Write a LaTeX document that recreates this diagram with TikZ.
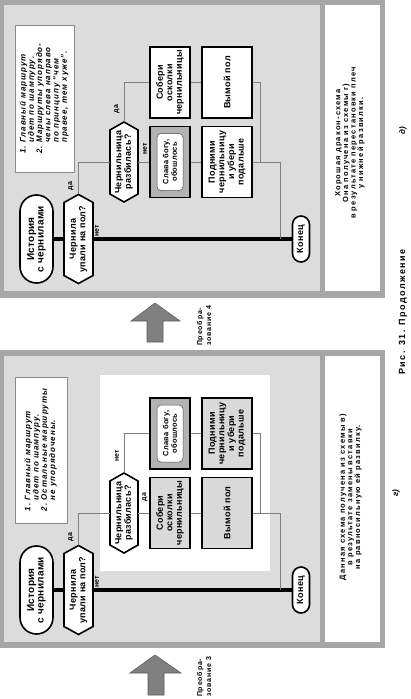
\documentclass[tikz,border=0pt]{standalone}
\usepackage{fontspec}
\setmainfont{Liberation Sans}
\newfontfamily\fN{Liberation Sans}[LetterSpace=3]
\newfontfamily\fT{Liberation Sans}[LetterSpace=12]
\newfontfamily\fC{Liberation Sans}[LetterSpace=16]
\usetikzlibrary{shapes.misc}
\definecolor{framegray}{HTML}{A6A6A6}
\definecolor{panelgray}{HTML}{DCDCDC}
\definecolor{darkbox}{HTML}{B3B3B3}
\definecolor{boxgray}{HTML}{D9D9D9}
\definecolor{linegray}{HTML}{7F7F7F}
\definecolor{notegray}{HTML}{8C8C8C}
\definecolor{arrowgray}{HTML}{808080}
\definecolor{arrowdark}{HTML}{5A5A5A}
\newcommand\hexq[4]{\draw[qshape] (#1,{#2-#4}) -- ({#1+#3},{#2-#4+8}) -- ({#1+#3},{#2+#4-8}) -- (#1,{#2+#4}) -- ({#1-#3},{#2+#4-8}) -- ({#1-#3},{#2-#4+8}) -- cycle;}
\begin{document}
\begin{tikzpicture}[x=1pt,y=-1pt,
 term/.style={rounded rectangle, draw=black, line width=1.6pt, fill=white, rotate=90, inner sep=0pt, align=center, font=\fN\bfseries\fontsize{9}{9.5}\selectfont},
 qtxt/.style={rectangle, inner sep=0pt, rotate=90, align=center, font=\fN\bfseries\fontsize{9}{9.5}\selectfont},
 qshape/.style={draw=black, line width=1.6pt, fill=white, line join=miter},
 act/.style={rectangle, draw=black, line width=1.6pt, fill=white, rotate=90, inner sep=0pt, align=center, minimum width=71pt, font=\fN\bfseries\fontsize{9}{9.6}\selectfont},
 inbox/.style={rectangle, rounded corners=4pt, draw=black!70, line width=0.5pt, fill=white, rotate=90, inner sep=0pt, minimum width=57pt, minimum height=26pt, align=center, font=\fN\bfseries\fontsize{7.5}{8.5}\selectfont},
 lbl/.style={rotate=90, inner sep=0pt, font=\fN\bfseries\fontsize{7}{7}\selectfont},
 lblit/.style={rotate=90, inner sep=0pt, font=\fN\bfseries\itshape\fontsize{8}{8}\selectfont},
 skew/.style={line width=4pt},
 br/.style={draw=linegray, line width=0.7pt},
 note/.style={rotate=90, inner sep=0pt, align=left, draw=notegray, line width=0.8pt, fill=white, font=\fT\bfseries\itshape\fontsize{8}{8.2}\selectfont},
 capt/.style={rotate=90, inner sep=0pt, align=center, font=\fC\bfseries\fontsize{7.5}{7.6}\selectfont},
 trl/.style={rotate=90, inner sep=0pt, align=left, font=\fT\bfseries\fontsize{7}{9}\selectfont},
 figc/.style={rotate=90, inner sep=0pt, font=\fC\bfseries\fontsize{9}{9}\selectfont},
 barrow/.style={fill=arrowgray, draw=arrowdark, line width=0.6pt},
]
\useasboundingbox (0,0) rectangle (411,699);
\fill[white] (0,0) rectangle (411,699);
% ---------- panel d (top)
\fill[framegray] (0,0) rectangle (385,298);
\fill[panelgray] (4,5) rectangle (320,291);
\fill[white] (325,5) rectangle (380,291);
% ---------- panel g (bottom)
\fill[framegray] (0,350) rectangle (385,648);
\fill[panelgray] (4,356) rectangle (320,642);
\fill[white] (325,356) rectangle (380,642);
\fill[white] (100,375) rectangle (270,571);

% ================= TOP PANEL =================
\node[note, minimum width=147pt, minimum height=59pt] (n1) at (44.5,98.5) {\begin{tabular}{@{}l@{\ }l@{}}1.&Главный маршрут\\&идет по шампуру.\\2.&Маршруты упорядо-\\&чены слева направо\\&по принципу “чем\\&правее, тем хуже”.\end{tabular}};
\node[term, minimum width=88pt, minimum height=33pt, font=\fN\bfseries\fontsize{10}{9.5}\selectfont] (ist1) at (36.5,239) {История\\с чернилами};
\hexq{78.5}{239}{14.5}{44.5}
\node[qtxt, minimum width=89pt, minimum height=29pt] (qa1) at (78.5,239) {Чернила\\упали на пол?};
\hexq{124}{162}{14}{40}
\node[qtxt, minimum width=80pt, minimum height=28pt] (qb1) at (124,162) {Чернильница\\разбилась?};
\node[act, minimum height=40pt] (sob1) at (170,82.5) {Собери\\осколки\\чернильницы};
\node[act, minimum height=50pt] (vym1) at (227,82.5) {Вымой пол};
\node[act, fill=darkbox, minimum height=40pt] (sl1) at (170,162) {};
\node[inbox] (sli1) at (sl1) {Слава богу,\\обошлось};
\node[act, minimum height=50pt] (pod1) at (227,162) {Подними\\чернильницу\\и убери\\подальше};
\node[term, minimum width=46pt, minimum height=17pt] (end1) at (301,239) {Конец};
\coordinate (ja1) at (280,239);
\coordinate (jb1) at (260,162);
\draw[skew] (ist1.south) -- (qa1.north);
\draw[skew] (qa1.south) -- (end1.north);
\draw[br] (qa1.east) |- (qb1.north);
\draw[br] (qb1.south) -- (sl1.north);
\draw[br] (sl1.south) -- (pod1.north);
\draw[br] (pod1.south) -| (ja1);
\draw[br] (qb1.east) |- (sob1.north);
\draw[br] (sob1.south) -- (vym1.north);
\draw[br] (vym1.south) -| (jb1);
\node[lbl] (la1) at (71,186) {да};
\node[lbl] (lb1) at (97,231) {нет};
\node[lbl] (lc1) at (117,109) {да};
\node[lbl] (ld1) at (145,149) {нет};
\node[capt] (c1) at (350,143) {Хорошая дракон-схема\\Она получена из схемы г)\\в результате перестановки плеч\\у нижней развилки.};
\node[lblit] (t1) at (403,131) {д)};

% ================= BOTTOM PANEL =================
\node[note, minimum width=146pt, minimum height=52pt] (n2) at (41,450) {\begin{tabular}{@{}l@{\ }l@{}}1.&Главный маршрут\\&идет по шампуру.\\2.&Остальные маршруты\\&не упорядочены.\end{tabular}};
\node[term, minimum width=88pt, minimum height=33pt, font=\fN\bfseries\fontsize{10}{9.5}\selectfont] (ist2) at (36.5,590) {История\\с чернилами};
\hexq{78.5}{590}{14.5}{44.5}
\node[qtxt, minimum width=89pt, minimum height=29pt] (qa2) at (78.5,590) {Чернила\\упали на пол?};
\hexq{124}{513}{14}{40}
\node[qtxt, minimum width=80pt, minimum height=28pt] (qb2) at (124,513) {Чернильница\\разбилась?};
\node[act, fill=darkbox, minimum height=40pt] (sl2) at (170,433.5) {};
\node[inbox] (sli2) at (sl2) {Слава богу,\\обошлось};
\node[act, fill=boxgray, minimum height=50pt] (pod2) at (227,433.5) {Подними\\чернильницу\\и убери\\подальше};
\node[act, fill=boxgray, minimum height=40pt] (sob2) at (170,513) {Собери\\осколки\\чернильницы};
\node[act, fill=boxgray, minimum height=50pt] (vym2) at (227,513) {Вымой пол};
\node[term, minimum width=46pt, minimum height=17pt] (end2) at (301,590) {Конец};
\coordinate (ja2) at (280,590);
\coordinate (jb2) at (260,513);
\draw[skew] (ist2.south) -- (qa2.north);
\draw[skew] (qa2.south) -- (end2.north);
\draw[br] (qa2.east) |- (qb2.north);
\draw[br] (qb2.south) -- (sob2.north);
\draw[br] (sob2.south) -- (vym2.north);
\draw[br] (vym2.south) -| (ja2);
\draw[br] (qb2.east) |- (sl2.north);
\draw[br] (sl2.south) -- (pod2.north);
\draw[br] (pod2.south) -| (jb2);
\node[lbl] (la2) at (71,537) {да};
\node[lbl] (lb2) at (97,582) {нет};
\node[lbl] (lc2) at (117,456) {нет};
\node[lbl] (ld2) at (145,497) {да};
\node[capt] (c2) at (350.5,497) {Данная схема получена из схемы в)\\в результате замены вставки\\на равносильную ей развилку.};
\node[lblit] (t2) at (396,493) {г)};

% ================= arrows and captions =================
\draw[barrow] (155,303) -- (180,321) -- (163,321) -- (163,342) -- (147,342) -- (147,321) -- (131,321) -- cycle;
\draw[barrow] (155,655) -- (181,673) -- (164,673) -- (164,695) -- (148,695) -- (148,673) -- (130,673) -- cycle;
\node[trl] (tr4) at (204,326) {Преобра-\\зование 4};
\node[trl] (tr3) at (204,677) {Преобра-\\зование 3};
\node[figc] (fc) at (403,312) {Рис. 31. Продолжение};
\end{tikzpicture}
\end{document}
